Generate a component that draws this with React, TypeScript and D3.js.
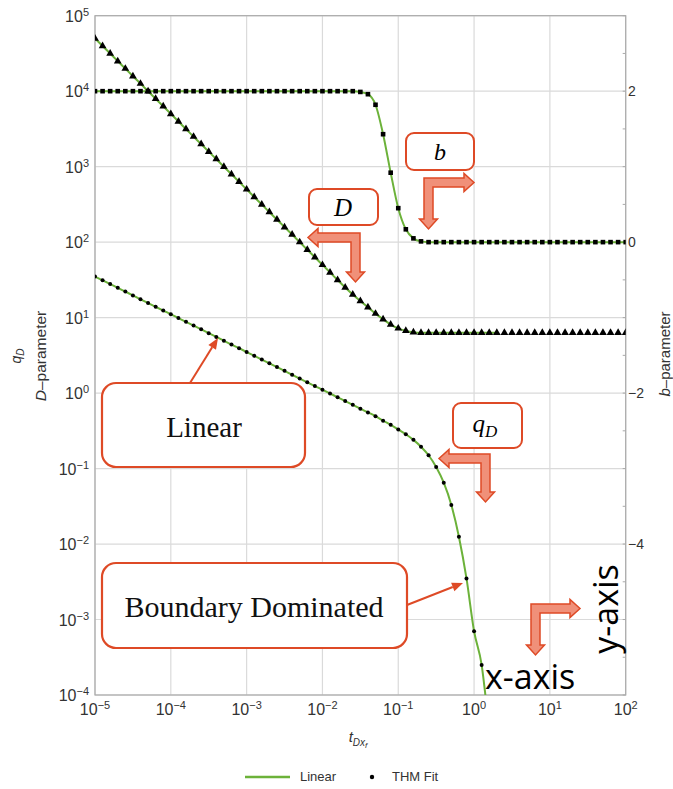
import React from 'react';
import * as d3 from 'd3';

const W = 673, H = 789;
const L = 95, R = 625.7, T = 15.7, B = 695;

const xTickExps = [-5, -4, -3, -2, -1, 0, 1, 2];
const yTickExps = [-4, -3, -2, -1, 0, 1, 2, 3, 4, 5];
const bTickLabels = [2, 0, -2, -4];

// sampling grid of the THM fit points: log10(t) from -5 to 2 by 0.1
const markerLogT = d3.range(71).map((k) => -5 + k / 10);

// D-parameter (triangles, left axis)
const dValues = [
  50000, 39700, 31500, 25000, 19900, 15800, 12600, 10000, 7940, 6310,
  5000, 3970, 3150, 2500, 1990, 1580, 1260, 1000, 794, 631,
  500, 397, 315, 250, 199, 158, 126, 100, 79.4, 63.1,
  50, 39.7, 31.5, 25.1, 20.3, 16.6, 13.7, 11.3, 9.5, 8.1,
  7.2, 6.7, 6.4, 6.3, 6.3, 6.3, 6.3, 6.3, 6.3, 6.3,
  6.3, 6.3, 6.3, 6.3, 6.3, 6.3, 6.3, 6.3, 6.3, 6.3,
  6.3, 6.3, 6.3, 6.3, 6.3, 6.3, 6.3, 6.3, 6.3, 6.3, 6.3,
];
const dLineEnd = 0.3; // log10 t where the green D curve stops

// b-parameter (squares, right axis)
const bValues = [
  2, 2, 2, 2, 2, 2, 2, 2, 2, 2,
  2, 2, 2, 2, 2, 2, 2, 2, 2, 2,
  2, 2, 2, 2, 2, 2, 2, 2, 2, 2,
  2, 2, 2, 2, 2, 1.99, 1.96, 1.82, 1.43, 0.92,
  0.45, 0.17, 0.05, 0.01, 0, 0, 0, 0, 0, 0,
  0, 0, 0, 0, 0, 0, 0, 0, 0, 0,
  0, 0, 0, 0, 0, 0, 0, 0, 0, 0, 0,
];

// dimensionless rate qD (dots, left axis)
const qValues = [
  35.0, 31.2, 27.8, 24.8, 22.1, 19.7, 17.5, 15.6, 13.9, 12.4,
  11.1, 9.87, 8.8, 7.84, 6.99, 6.22, 5.55, 4.94, 4.4, 3.93,
  3.5, 3.12, 2.78, 2.48, 2.21, 1.97, 1.75, 1.56, 1.39, 1.24,
  1.11, 0.987, 0.88, 0.784, 0.699, 0.622, 0.555, 0.494, 0.43, 0.38,
  0.33, 0.285, 0.24, 0.195, 0.15, 0.105, 0.065, 0.033, 0.0125, 0.0035,
  0.0007, 0.00025,
];
const qLineTail = [[0.16, 0.00008]];

const GREEN = '#6cb23a';
const RED = '#de4a26';
const ARROW_FILL = '#f09079';
const LABEL = '#333';

function bentArrow(cx: number, cy: number, tipX: number, tipY: number, w = 9, hw = 18, hl = 10) {
  const s = tipX > cx ? 1 : -1;
  const X = (dx: number) => cx + s * dx;
  const len = Math.abs(tipX - cx);
  const pts = [
    [X(0), cy],
    [X(len - hl), cy],
    [X(len - hl), cy + w / 2 - hw / 2],
    [X(len), cy + w / 2],
    [X(len - hl), cy + w / 2 + hw / 2],
    [X(len - hl), cy + w],
    [X(w), cy + w],
    [X(w), tipY - hl],
    [X(w / 2 + hw / 2), tipY - hl],
    [X(w / 2), tipY],
    [X(w / 2 - hw / 2), tipY - hl],
    [X(0), tipY - hl],
  ];
  return 'M' + pts.map((p) => p.join(',')).join('L') + 'Z';
}

function lineArrow(x1: number, y1: number, x2: number, y2: number, hl = 11, hw = 9) {
  const a = Math.atan2(y2 - y1, x2 - x1);
  const bx = x2 - hl * Math.cos(a), by = y2 - hl * Math.sin(a);
  const px = -Math.sin(a) * hw / 2, py = Math.cos(a) * hw / 2;
  return {
    line: `M${x1},${y1}L${bx},${by}`,
    head: `M${x2},${y2}L${bx + px},${by + py}L${bx - px},${by - py}Z`,
  };
}

export default function App() {
  const x = d3.scaleLog().domain([1e-5, 1e2]).range([L, R]);
  const y = d3.scaleLog().domain([1e-4, 1e5]).range([B, T]);
  const yb = d3.scaleLinear().domain([-6, 3]).range([B, T]);

  const dPts = markerLogT.map((lt, i) => [10 ** lt, dValues[i]]);
  const bPts = markerLogT.map((lt, i) => [10 ** lt, bValues[i]]);
  const qPts = qValues.map((v, i) => [10 ** markerLogT[i], v]);

  const lineLog = d3.line<number[]>().x((d) => x(d[0])).y((d) => y(d[1])).curve(d3.curveMonotoneX);
  const lineB = d3.line<number[]>().x((d) => x(d[0])).y((d) => yb(d[1])).curve(d3.curveMonotoneX);

  const dLine = lineLog(dPts.filter((d) => Math.log10(d[0]) <= dLineEnd + 1e-9));
  const qLine = lineLog([...qPts, ...qLineTail.map((p) => [10 ** p[0], p[1]])]);
  const bLine = lineB(bPts);

  const tri = d3.symbol(d3.symbolTriangle, 26)();

  const fmtExp = (e: number) => (e < 0 ? '\u2212' + Math.abs(e) : String(e));

  const bMinor = d3.range(-6, 3.01, 0.5);

  const linArrow = lineArrow(190, 383, 218, 338);
  const bdArrow = lineArrow(407, 605, 463, 583);

  return (
    <svg width={W} height={H} style={{ position: 'absolute', left: 0, top: 0, background: '#fff' }}
      fontFamily="'Liberation Sans', Arial, sans-serif">
      <defs>
        <clipPath id="plotClip">
          <rect x={L} y={T} width={R - L} height={B - T} />
        </clipPath>
      </defs>
      <rect x={0} y={0} width={W} height={H} fill="#fff" />

      {/* grid */}
      {xTickExps.map((e) => (
        <line key={'gx' + e} x1={x(10 ** e)} x2={x(10 ** e)} y1={T} y2={B} stroke="#dadada" strokeWidth={1.2} />
      ))}
      {yTickExps.map((e) => (
        <line key={'gy' + e} x1={L} x2={R} y1={y(10 ** e)} y2={y(10 ** e)} stroke="#dadada" strokeWidth={1.2} />
      ))}

      {/* frame */}
      <rect x={L} y={T} width={R - L} height={B - T} fill="none" stroke="#aaa" strokeWidth={1.2} />

      {/* right axis minor ticks */}
      {bMinor.map((v) => (
        <line key={'bt' + v} x1={R - 3} x2={R} y1={yb(v)} y2={yb(v)} stroke="#aaa" strokeWidth={1} />
      ))}

      {/* x tick labels */}
      {xTickExps.map((e) => (
        <text key={'xl' + e} x={x(10 ** e)} y={715} textAnchor="middle" fontSize={16} fill={LABEL}>
          10<tspan dy={-6} fontSize={11}>{fmtExp(e)}</tspan>
        </text>
      ))}
      {/* y tick labels */}
      {yTickExps.map((e) => (
        <text key={'yl' + e} x={89} y={y(10 ** e) + 6} textAnchor="end" fontSize={16} fill={LABEL}>
          10<tspan dy={-6} fontSize={11}>{fmtExp(e)}</tspan>
        </text>
      ))}
      {/* right tick labels */}
      {bTickLabels.map((v) => (
        <text key={'bl' + v} x={628} y={yb(v) + 5} fontSize={14} fill={LABEL}>
          {v < 0 ? '\u2212' + Math.abs(v) : String(v)}
        </text>
      ))}

      {/* axis titles */}
      <text transform="translate(21,356) rotate(-90)" textAnchor="middle" fontSize={14} fill={LABEL}>
        <tspan fontStyle="italic">q</tspan>
        <tspan fontStyle="italic" fontSize={10} dy={3}>D</tspan>
      </text>
      <text transform="translate(46,356) rotate(-90)" textAnchor="middle" fontSize={15.5} fill={LABEL}>
        <tspan fontStyle="italic">D</tspan>{'\u2013parameter'}
      </text>
      <text transform="translate(670,354) rotate(-90)" textAnchor="middle" fontSize={15} fill={LABEL}>
        <tspan fontStyle="italic">b</tspan>{'\u2013parameter'}
      </text>
      <text x={358} y={742} textAnchor="middle" fontSize={15} fill={LABEL} fontStyle="italic">
        t<tspan fontSize={10} dy={4}>Dx</tspan><tspan fontSize={8} dy={2}>f</tspan>
      </text>

      {/* data */}
      <g clipPath="url(#plotClip)">
        <path d={bLine || ''} fill="none" stroke={GREEN} strokeWidth={2} />
        <path d={dLine || ''} fill="none" stroke={GREEN} strokeWidth={2} />
        <path d={qLine || ''} fill="none" stroke={GREEN} strokeWidth={2} />
        {bPts.map((d, i) => (
          <rect key={'s' + i} x={x(d[0]) - 2.3} y={yb(d[1]) - 2.3} width={4.6} height={4.6} fill="#000" />
        ))}
        {dPts.map((d, i) => (
          <path key={'t' + i} d={tri || ''} transform={`translate(${x(d[0])},${y(d[1])})`} fill="#000" />
        ))}
        {qPts.map((d, i) => (
          <circle key={'c' + i} cx={x(d[0])} cy={y(d[1])} r={2} fill="#000" />
        ))}
      </g>

      {/* annotation boxes */}
      <rect x={406} y={133} width={68} height={37} rx={8} fill="#fff" stroke={RED} strokeWidth={2} />
      <text x={440} y={160} textAnchor="middle" fontFamily="'Liberation Serif', 'DejaVu Serif', serif" fontStyle="italic" fontSize={24}>b</text>
      <rect x={309} y={189} width={69} height={36} rx={8} fill="#fff" stroke={RED} strokeWidth={2} />
      <text x={343} y={216} textAnchor="middle" fontFamily="'Liberation Serif', 'DejaVu Serif', serif" fontStyle="italic" fontSize={25}>D</text>
      <rect x={453} y={403} width={69} height={45} rx={8} fill="#fff" stroke={RED} strokeWidth={2} />
      <text x={485} y={432} textAnchor="middle" fontFamily="'Liberation Serif', 'DejaVu Serif', serif" fontStyle="italic" fontSize={25}>
        q<tspan fontSize={17} dy={5}>D</tspan>
      </text>

      {/* bent block arrows */}
      <path d={bentArrow(424, 178, 474, 229)} fill={ARROW_FILL} stroke={RED} strokeWidth={1.5} strokeLinejoin="miter" />
      <path d={bentArrow(360, 233, 308, 282)} fill={ARROW_FILL} stroke={RED} strokeWidth={1.5} />
      <path d={bentArrow(490, 454, 439, 502)} fill={ARROW_FILL} stroke={RED} strokeWidth={1.5} />
      <path d={bentArrow(531, 604, 580, 655)} fill={ARROW_FILL} stroke={RED} strokeWidth={1.5} />

      {/* Linear callout */}
      <path d={linArrow.line} stroke={RED} strokeWidth={2} fill="none" />
      <path d={linArrow.head} fill={RED} />
      <rect x={102} y={383} width={203} height={84} rx={14} fill="#fff" stroke={RED} strokeWidth={2.2} />
      <text x={204} y={437} textAnchor="middle" fontFamily="'Liberation Serif', 'Times New Roman', serif" fontSize={29} fill="#111">Linear</text>

      {/* Boundary Dominated callout */}
      <path d={bdArrow.line} stroke={RED} strokeWidth={2} fill="none" />
      <path d={bdArrow.head} fill={RED} />
      <rect x={102} y={563} width={305} height={85} rx={14} fill="#fff" stroke={RED} strokeWidth={2.2} />
      <text x={254} y={617} textAnchor="middle" fontFamily="'Liberation Serif', 'Times New Roman', serif" fontSize={30} fill="#111">Boundary Dominated</text>

      {/* axis captions */}
      <text x={485} y={689} fontFamily="'Open Sans', 'Noto Sans', sans-serif" fontSize={34} fill="#000">x-axis</text>
      <text transform="translate(618,609) rotate(-90)" textAnchor="middle" fontFamily="'Open Sans', 'Noto Sans', sans-serif" fontSize={34} fill="#000">y-axis</text>

      {/* legend */}
      <line x1={245} x2={290} y1={777} y2={777} stroke={GREEN} strokeWidth={2.5} />
      <text x={300} y={781} fontSize={13} fill={LABEL}>Linear</text>
      <circle cx={372} cy={777} r={2.2} fill="#000" />
      <text x={392} y={781} fontSize={13} fill={LABEL}>THM Fit</text>
    </svg>
  );
}
